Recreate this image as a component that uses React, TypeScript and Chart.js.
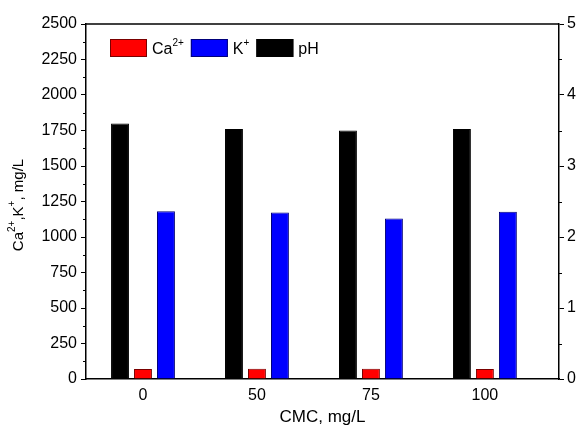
import React, { useEffect, useRef } from "react";
import { Chart, registerables } from "chart.js";
Chart.register(...registerables);

const categories = ["0", "50", "75", "100"];
const caValues = [70, 72, 72, 70];
const kValues = [1181, 1173, 1131, 1178];
const phValues = [3.6, 3.52, 3.5, 3.52];
const leftMinorTicks = [125, 375, 625, 875, 1125, 1375, 1625, 1875, 2125, 2375];
const rightMinorTicks = [0.5, 1.5, 2.5, 3.5, 4.5];
const legendOrder = [1, 2, 0];
const legendBase = ["pH", "Ca", "K"];
const legendSup = ["", "2+", "+"];
const yTitleParts: [string, boolean][] = [
  ["Ca", false],
  ["2+", true],
  [",K", false],
  ["+", true],
  [", mg/L", false],
];

const FONT = "'Liberation Sans', Arial, sans-serif";

const framePlugin = {
  id: "frame",
  afterDraw(chart: any) {
    const { ctx, chartArea, scales } = chart;
    ctx.save();
    ctx.strokeStyle = "#000";
    ctx.lineWidth = 1.5;
    ctx.beginPath();
    ctx.moveTo(chartArea.left, chartArea.top);
    ctx.lineTo(chartArea.right, chartArea.top);
    ctx.stroke();
    ctx.lineWidth = 1;
    ctx.beginPath();
    for (const v of leftMinorTicks) {
      const y = Math.round(scales.y.getPixelForValue(v)) + 0.5;
      ctx.moveTo(chartArea.left - 3, y);
      ctx.lineTo(chartArea.left, y);
    }
    for (const v of rightMinorTicks) {
      const y = Math.round(scales.y1.getPixelForValue(v)) + 0.5;
      ctx.moveTo(chartArea.right, y);
      ctx.lineTo(chartArea.right + 3, y);
    }
    ctx.stroke();

    // legend
    let x = chartArea.left + 24;
    const y = chartArea.top + 15;
    ctx.textBaseline = "alphabetic";
    ctx.textAlign = "left";
    for (const i of legendOrder) {
      const ds = chart.data.datasets[i];
      ctx.fillStyle = ds.backgroundColor;
      ctx.fillRect(x, y, 37, 18);
      ctx.strokeStyle = ds.borderColor;
      ctx.lineWidth = 1;
      ctx.strokeRect(x + 0.5, y + 0.5, 36, 17);
      x += 37 + 5;
      ctx.fillStyle = "#000";
      ctx.font = `16px ${FONT}`;
      ctx.fillText(legendBase[i], x, y + 15);
      x += ctx.measureText(legendBase[i]).width;
      if (legendSup[i]) {
        ctx.font = `10px ${FONT}`;
        ctx.fillText(legendSup[i], x, y + 7);
        x += ctx.measureText(legendSup[i]).width;
      }
      x += 7;
    }

    // y axis title with superscripts
    const base = `15px ${FONT}`;
    const sup = `10px ${FONT}`;
    let total = 0;
    for (const [t, s] of yTitleParts) {
      ctx.font = s ? sup : base;
      total += ctx.measureText(t).width;
    }
    ctx.translate(23, 205);
    ctx.rotate(-Math.PI / 2);
    let tx = -total / 2;
    ctx.fillStyle = "#000";
    for (const [t, s] of yTitleParts) {
      ctx.font = s ? sup : base;
      ctx.fillText(t, tx, s ? -8 : 0);
      tx += ctx.measureText(t).width;
    }
    ctx.restore();
  },
};

export default function App() {
  const ref = useRef<HTMLCanvasElement>(null);
  useEffect(() => {
    const chart = new Chart(ref.current!, {
      type: "bar",
      data: {
        labels: categories,
        datasets: [
          {
            label: "pH",
            data: phValues,
            yAxisID: "y1",
            backgroundColor: "#000000",
            borderColor: "#000000",
            borderWidth: 1,
          },
          {
            label: "Ca²⁺",
            data: caValues,
            yAxisID: "y",
            backgroundColor: "#ff0000",
            borderColor: "#7a0000",
            borderWidth: 1,
          },
          {
            label: "K⁺",
            data: kValues,
            yAxisID: "y",
            backgroundColor: "#0000ff",
            borderColor: "#00007a",
            borderWidth: 1,
          },
        ],
      },
      options: {
        animation: false,
        responsive: false,
        maintainAspectRatio: false,
        layout: { padding: { top: 24, left: 0, right: 0, bottom: 0 } },
        datasets: { bar: { categoryPercentage: 0.605, barPercentage: 0.78 } },
        plugins: {
          tooltip: { enabled: false },
          legend: { display: false },
        },
        scales: {
          x: {
            type: "category",
            offset: true,
            grid: { display: false, drawTicks: false },
            border: { display: true, color: "#000", width: 1.5 },
            ticks: { color: "#000", padding: 7, font: { family: FONT, size: 16 } },
            title: {
              display: true,
              text: "CMC, mg/L",
              color: "#000",
              padding: { top: 3, bottom: 0 },
              font: { family: FONT, size: 17 },
            },
            afterBuildTicks: (s: any) => {
              s._startValue = -0.5;
              s._valueRange = 4.15;
            },
            afterFit: (s: any) => {
              s.height = 49;
            },
          },
          y: {
            position: "left",
            min: 0,
            max: 2500,
            ticks: {
              stepSize: 250,
              color: "#000",
              padding: 4,
              font: { family: FONT, size: 16 },
              callback: (v: any) => String(v),
            },
            grid: { drawOnChartArea: false, tickLength: 5, tickColor: "#000", tickWidth: 1 },
            border: { display: true, color: "#000", width: 1.5 },
            afterFit: (s: any) => {
              s.width = 86;
            },
          },
          y1: {
            position: "right",
            min: 0,
            max: 5,
            ticks: {
              stepSize: 1,
              color: "#000",
              padding: 3,
              font: { family: FONT, size: 16 },
              callback: (v: any) => String(v),
            },
            grid: { drawOnChartArea: false, tickLength: 5, tickColor: "#000", tickWidth: 1 },
            border: { display: true, color: "#000", width: 1.5 },
            afterFit: (s: any) => {
              s.width = 18;
            },
          },
        },
      } as any,
      plugins: [framePlugin],
    });
    return () => chart.destroy();
  }, []);
  return (
    <div style={{ position: "fixed", left: 0, top: 0, width: 577, height: 428, background: "#fff" }}>
      <canvas ref={ref} width={577} height={428} style={{ width: 577, height: 428 }} />
    </div>
  );
}
